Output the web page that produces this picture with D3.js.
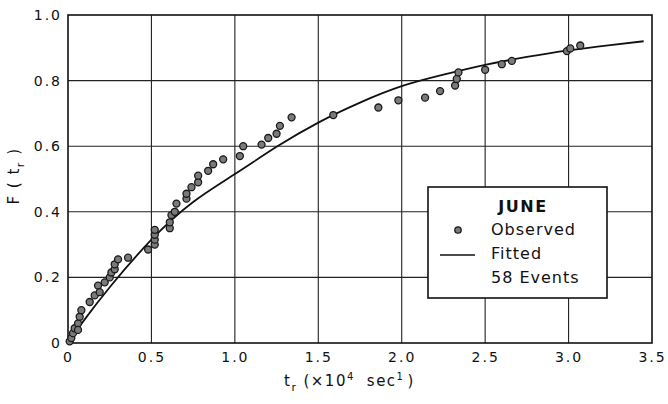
<!DOCTYPE html>
<html>
<head>
<meta charset="utf-8">
<script src="https://cdn.jsdelivr.net/npm/d3@7"></script>
<style>
  html, body { margin: 0; padding: 0; background: #fff; }
  svg { display: block; }
</style>
</head>
<body>
<svg id="chart" width="668" height="404"></svg>
<script>
// ---- data ----
const xTicks = [0, 0.5, 1.0, 1.5, 2.0, 2.5, 3.0, 3.5];
const xTickLabels = ["0", "0.5", "1.0", "1.5", "2.0", "2.5", "3.0", "3.5"];
const yTicks = [0, 0.2, 0.4, 0.6, 0.8, 1.0];
const yTickLabels = ["0", "0.2", "0.4", "0.6", "0.8", "1.0"];

// observed events (t_r in 10^4 sec, F)
const obsT = [0.01, 0.02, 0.03, 0.04, 0.06, 0.06, 0.07, 0.08, 0.13, 0.16,
              0.18, 0.19, 0.22, 0.25, 0.26, 0.28, 0.28, 0.30, 0.36, 0.48,
              0.52, 0.52, 0.52, 0.52, 0.61, 0.61, 0.62, 0.64, 0.65, 0.71,
              0.71, 0.74, 0.78, 0.78, 0.84, 0.87, 0.93, 1.03, 1.05, 1.16,
              1.20, 1.25, 1.27, 1.34, 1.59, 1.86, 1.98, 2.14, 2.23, 2.32,
              2.33, 2.34, 2.50, 2.60, 2.66, 2.99, 3.01, 3.07];
const obsF = [0.005, 0.015, 0.03, 0.045, 0.06, 0.04, 0.08, 0.10, 0.125, 0.145,
              0.175, 0.155, 0.185, 0.20, 0.215, 0.225, 0.24, 0.255, 0.26, 0.285,
              0.30, 0.315, 0.33, 0.345, 0.35, 0.368, 0.39, 0.40, 0.425, 0.44,
              0.455, 0.475, 0.49, 0.51, 0.525, 0.545, 0.56, 0.57, 0.60, 0.605,
              0.625, 0.638, 0.662, 0.688, 0.695, 0.718, 0.74, 0.748, 0.768, 0.785,
              0.805, 0.825, 0.833, 0.85, 0.86, 0.89, 0.898, 0.907];

// fitted curve
const fitT = [0, 0.05, 0.1, 0.25, 0.5, 0.75, 1.0, 1.25, 1.5, 1.75, 2.0, 2.25, 2.5, 2.75, 3.0, 3.25, 3.45];
const fitF = [0, 0.037, 0.072, 0.17, 0.315, 0.43, 0.515, 0.598, 0.672, 0.733, 0.783, 0.818, 0.848, 0.872, 0.892, 0.908, 0.92];

const legendTitle = "JUNE";
const legendItems = ["Observed", "Fitted", "58 Events"];

// ---- layout ----
const L = 68, R = 652, T = 15, B = 343;
const svg = d3.select("#chart");
const x = d3.scaleLinear().domain([0, 3.5]).range([L, R]);
const y = d3.scaleLinear().domain([0, 1.0]).range([B, T]);
const font = "'DejaVu Sans', 'Liberation Sans', sans-serif";

// grid
const g = svg.append("g");
g.selectAll("line.vx").data(xTicks.slice(1, -1)).enter().append("line")
  .attr("x1", d => x(d)).attr("x2", d => x(d)).attr("y1", T).attr("y2", B)
  .attr("stroke", "#222").attr("stroke-width", 1.1);
g.selectAll("line.hy").data(yTicks.slice(1, -1)).enter().append("line")
  .attr("y1", d => y(d)).attr("y2", d => y(d)).attr("x1", L).attr("x2", R)
  .attr("stroke", "#222").attr("stroke-width", 1.1);

// frame
svg.append("rect").attr("x", L).attr("y", T).attr("width", R - L).attr("height", B - T)
  .attr("fill", "none").attr("stroke", "#111").attr("stroke-width", 1.6);

// axes (labels only, via d3 axis)
const xAxis = d3.axisBottom(x).tickValues(xTicks).tickFormat((d, i) => xTickLabels[i]).tickSize(0).tickPadding(9);
const xa = svg.append("g").attr("transform", `translate(0,${B})`).call(xAxis);
xa.select(".domain").remove();
xa.selectAll("text").attr("font-family", font).attr("font-size", 14).attr("letter-spacing", 2)
  .attr("fill", "#111");

const yAxis = d3.axisLeft(y).tickValues(yTicks).tickFormat((d, i) => yTickLabels[i]).tickSize(0).tickPadding(6);
const ya = svg.append("g").attr("transform", `translate(${L},0)`).call(yAxis);
ya.select(".domain").remove();
ya.selectAll("text").attr("font-family", font).attr("font-size", 14).attr("letter-spacing", 2)
  .attr("fill", "#111");

// fitted curve
const fitData = fitT.map((t, i) => [t, fitF[i]]);
svg.append("path").datum(fitData)
  .attr("d", d3.line().x(d => x(d[0])).y(d => y(d[1])).curve(d3.curveNatural))
  .attr("fill", "none").attr("stroke", "#111").attr("stroke-width", 1.8);

// observed
const obsData = obsT.map((t, i) => [t, obsF[i]]);
svg.append("g").selectAll("circle").data(obsData).enter().append("circle")
  .attr("cx", d => x(d[0])).attr("cy", d => y(d[1])).attr("r", 3.5)
  .attr("fill", "#7a7a7a").attr("stroke", "#1a1a1a").attr("stroke-width", 1.3);

// legend
const lg = svg.append("g");
lg.append("rect").attr("x", 428).attr("y", 187).attr("width", 179).attr("height", 111)
  .attr("fill", "#fff").attr("stroke", "#111").attr("stroke-width", 1.6);
lg.append("text").attr("x", 523).attr("y", 212).attr("text-anchor", "middle")
  .attr("font-family", font).attr("font-size", 16).attr("font-weight", "bold").attr("letter-spacing", 1.5)
  .attr("fill", "#111").text(legendTitle);
lg.append("circle").attr("cx", 458).attr("cy", 230).attr("r", 3.2)
  .attr("fill", "#7a7a7a").attr("stroke", "#1a1a1a").attr("stroke-width", 1.3);
lg.append("line").attr("x1", 440).attr("x2", 475).attr("y1", 255).attr("y2", 255)
  .attr("stroke", "#111").attr("stroke-width", 1.6);
lg.selectAll("text.item").data(legendItems).enter().append("text")
  .attr("x", 491).attr("y", (d, i) => 235 + i * 24)
  .attr("font-family", font).attr("font-size", 16).attr("letter-spacing", 1)
  .attr("fill", "#111").text(d => d);

// x axis title
const xt = svg.append("text").attr("x", 284).attr("y", 386)
  .attr("font-family", font).attr("font-size", 15).attr("letter-spacing", 1.5).attr("fill", "#111");
xt.append("tspan").text("t");
xt.append("tspan").attr("font-size", 11).attr("dy", 5).text("r");
xt.append("tspan").attr("dy", -5).attr("dx", 6).text("(×10");
xt.append("tspan").attr("font-size", 10).attr("dy", -6).text("4");
xt.append("tspan").attr("dy", 6).attr("dx", 12).text("sec");
xt.append("tspan").attr("font-size", 10).attr("dy", -6).text("1");
xt.append("tspan").attr("dy", 6).attr("dx", 3).text(")");

// y axis title
const yt = svg.append("text").attr("transform", "translate(19,176) rotate(-90)")
  .attr("text-anchor", "middle")
  .attr("font-family", font).attr("font-size", 15).attr("letter-spacing", 1.5).attr("fill", "#111");
yt.append("tspan").text("F ( t");
yt.append("tspan").attr("font-size", 11).attr("dy", 5).text("r");
yt.append("tspan").attr("dy", -5).text(" )");
</script>
</body>
</html>
